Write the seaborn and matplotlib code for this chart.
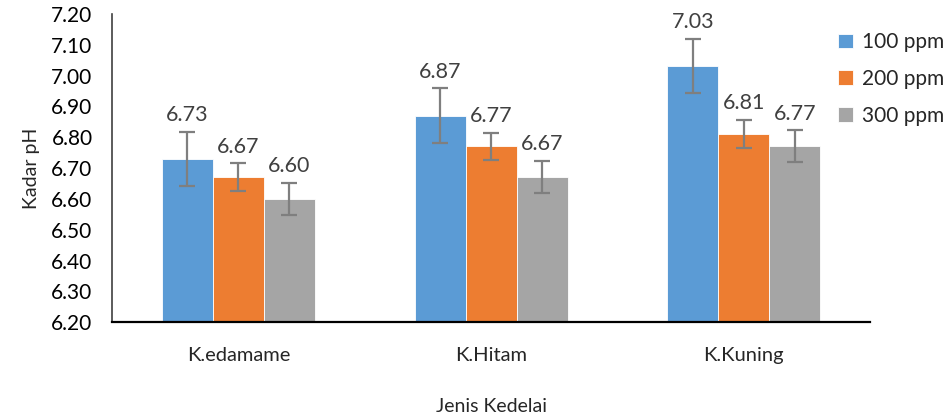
import pandas as pd
import matplotlib.pyplot as plt
import seaborn as sns

# data
kedelai = ["K.edamame", "K.Hitam", "K.Kuning"]
dosis = ["100 ppm", "200 ppm", "300 ppm"]
ph_100 = [6.73, 6.87, 7.03]
ph_200 = [6.67, 6.77, 6.81]
ph_300 = [6.60, 6.67, 6.77]
err_100 = [0.088, 0.088, 0.088]
err_200 = [0.045, 0.045, 0.045]
err_300 = [0.052, 0.052, 0.052]
yticks = [6.20, 6.30, 6.40, 6.50, 6.60, 6.70, 6.80, 6.90, 7.00, 7.10, 7.20]

warna = ["#5B9BD5", "#ED7D31", "#A5A5A5"]

rows = []
for d, vals, errs in zip(dosis, [ph_100, ph_200, ph_300], [err_100, err_200, err_300]):
    for k, v, e in zip(kedelai, vals, errs):
        rows.append({"Jenis": k, "Dosis": d, "pH": v, "err": e})
df = pd.DataFrame(rows)

sns.set_style("white")
plt.rcParams["font.family"] = ["Lato", "DejaVu Sans"]

fig = plt.figure(figsize=(9.49, 4.19), dpi=100)
ax = fig.add_axes([0.118, 0.231, 0.799, 0.736])

sns.barplot(data=df, x="Jenis", y="pH", hue="Dosis", order=kedelai,
            hue_order=dosis, palette=warna, width=0.606, errorbar=None,
            saturation=1, edgecolor="white", linewidth=0.6, ax=ax)

for cont, d in zip(ax.containers, dosis):
    sub = df[df["Dosis"] == d].set_index("Jenis").loc[kedelai]
    xs = [p.get_x() + p.get_width() / 2 for p in cont]
    ax.errorbar(xs, sub["pH"], yerr=sub["err"], fmt="none",
                ecolor="#7F7F7F", elinewidth=1.6, capsize=6, capthick=1.6)
    for x, v, e in zip(xs, sub["pH"], sub["err"]):
        ax.text(x, v + e + 0.022, f"{v:.2f}", ha="center", va="bottom",
                fontsize=15.5, color="#404040")

ax.set_ylim(6.2, 7.2)
ax.set_yticks(yticks)
ax.set_yticklabels([f"{t:.2f}" for t in yticks], fontsize=15, color="black")
ax.tick_params(axis="x", labelsize=14.5, length=0, pad=18)
ax.tick_params(axis="y", length=0, pad=14)
ax.set_xlim(-0.5, 2.5)

ax.set_ylabel("Kadar pH", fontsize=14, labelpad=8)
ax.set_xlabel("Jenis Kedelai", fontsize=14, labelpad=24)

sns.despine(ax=ax)
ax.spines["left"].set_color("#404040")
ax.spines["left"].set_linewidth(1.2)
ax.spines["bottom"].set_color("black")
ax.spines["bottom"].set_linewidth(1.6)

ax.legend(loc="upper left", bbox_to_anchor=(0.958, 0.94), frameon=False,
          fontsize=15, handlelength=0.7, handleheight=0.7,
          handletextpad=0.45, labelspacing=0.8, borderpad=0,
          borderaxespad=0)

fig.savefig("out.png", dpi=100)
